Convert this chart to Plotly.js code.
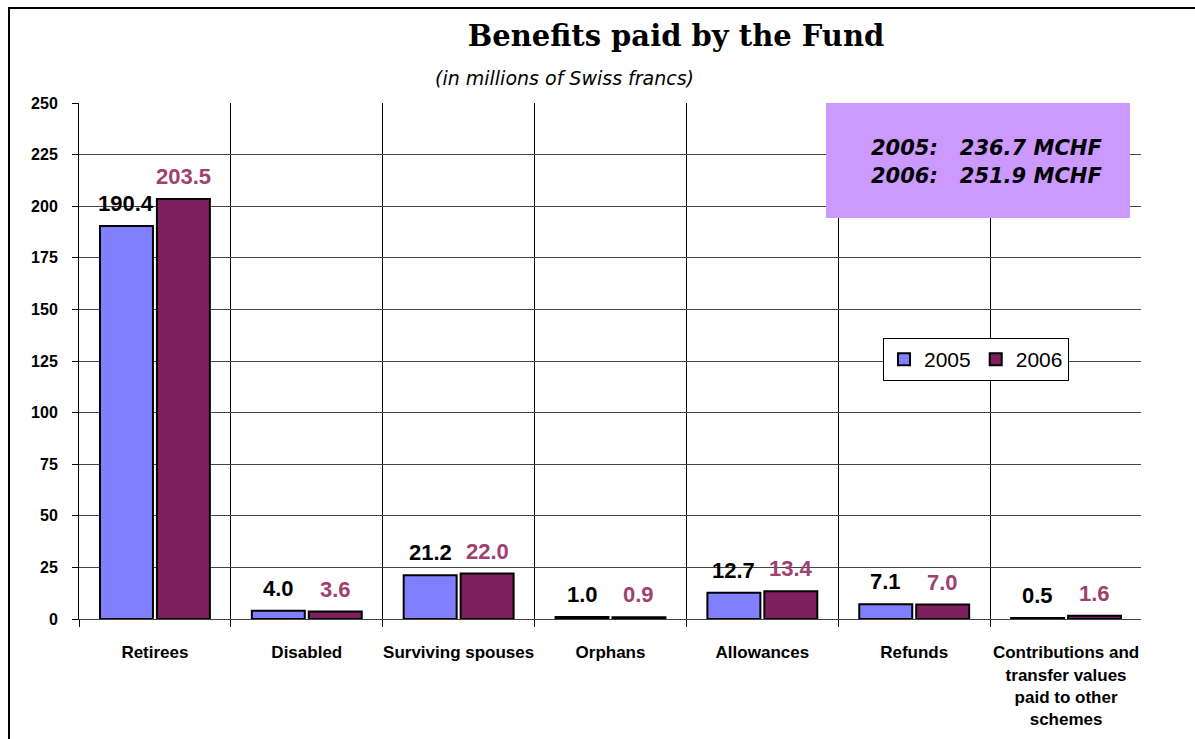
<!DOCTYPE html>
<html>
<head>
<meta charset="utf-8">
<script src="https://cdn.plot.ly/plotly-3.0.1.min.js"></script>
<style>html,body{margin:0;padding:0;background:#fff;}#chart{width:1195px;height:739px;}</style>
</head>
<body>
<div id="chart"></div>
<script>
// ---- data ----
const categories = ["Retirees", "Disabled", "Surviving spouses", "Orphans", "Allowances", "Refunds",
  "Contributions and<br>transfer values<br>paid to other<br>schemes"];
const values2005 = [190.4, 4.0, 21.2, 1.0, 12.7, 7.1, 0.5];
const values2006 = [203.5, 3.6, 22.0, 0.9, 13.4, 7.0, 1.6];
const seriesNames = ["2005", "2006"];
const totalsText = ["2005:\u00A0\u00A0\u00A0236.7 MCHF", "2006:\u00A0\u00A0\u00A0251.9 MCHF"];
const titleText = "Benefits paid by the Fund";
const subtitleText = "(in millions of Swiss francs)";
const yTickVals = [0, 25, 50, 75, 100, 125, 150, 175, 200, 225, 250];

// ---- layout geometry ----
const W = 1195, H = 739;
const M = {l: 79, r: 53, t: 103, b: 120};
const PW = W - M.l - M.r, PH = H - M.t - M.b;
const px2x = p => (p - M.l) / PW;
const py2y = p => (H - M.b - p) / PH;
const bargap = 0.25, bargroupgap = 0.07;
const barOffsetPx = PW / categories.length * (1 - bargap) / 4;

const col2005 = "#8080FF", col2006 = "#7F1F5F", lab2006 = "#A0406F";
const FONT = "Liberation Sans, Arial, sans-serif";
const WIDE = "DejaVu Sans, sans-serif";

const traces = [
  {type: "bar", name: seriesNames[0], x: categories, y: values2005,
   marker: {color: col2005, line: {color: "#000", width: 2}}, hoverinfo: "none"},
  {type: "bar", name: seriesNames[1], x: categories, y: values2006,
   marker: {color: col2006, line: {color: "#000", width: 2}}, hoverinfo: "none"}
];

const annotations = [];
categories.forEach((c, i) => {
  annotations.push({x: c, y: values2005[i], xref: "x", yref: "y", text: values2005[i].toFixed(1),
    showarrow: false, xshift: -barOffsetPx, yshift: 8, yanchor: "bottom",
    font: {family: FONT, size: 22, color: "#000", weight: "bold"}});
  annotations.push({x: c, y: values2006[i], xref: "x", yref: "y", text: values2006[i].toFixed(1),
    showarrow: false, xshift: barOffsetPx, yshift: 8, yanchor: "bottom",
    font: {family: FONT, size: 22, color: lab2006, weight: "bold"}});
});
annotations.push({xref: "paper", yref: "paper", x: px2x(564), y: py2y(78), text: "<i>" + subtitleText + "</i>",
  showarrow: false, xanchor: "center", yanchor: "middle", font: {family: WIDE, size: 19, color: "#000"}});
[148, 176].forEach((py, k) => {
  annotations.push({xref: "paper", yref: "paper", x: px2x(1104), y: py2y(py), text: "<b><i>" + totalsText[k] + "</i></b>",
    showarrow: false, xanchor: "right", yanchor: "middle", align: "left", font: {family: WIDE, size: 21, color: "#000"}});
});

const shapes = [
  {type: "rect", xref: "paper", yref: "paper", x0: px2x(826), x1: px2x(1130), y0: py2y(218), y1: py2y(103),
   fillcolor: "#CC99FF", line: {width: 0}, layer: "above"},
  // hide the closing boundary line on the right edge (not drawn in the original)
  {type: "line", xref: "paper", yref: "paper", x0: 1, x1: 1, y0: py2y(628), y1: py2y(104),
   line: {color: "#fff", width: 2}, layer: "above"},
  {type: "path", xref: "paper", yref: "paper",
   path: `M ${px2x(9)} ${py2y(H)} L ${px2x(9)} ${py2y(8)} L ${px2x(W)} ${py2y(8)}`,
   line: {color: "#000", width: 2}, layer: "above"}
];

const layout = {
  width: W, height: H, margin: M,
  paper_bgcolor: "#fff", plot_bgcolor: "#fff",
  font: {family: FONT, color: "#000"},
  title: {text: titleText, x: 676 / W, xref: "container", xanchor: "center", y: 1 - 36 / H, yref: "container", yanchor: "middle",
    font: {family: "DejaVu Serif, serif", size: 29, weight: "bold", color: "#000"}},
  barmode: "group", bargap: bargap, bargroupgap: bargroupgap,
  xaxis: {type: "category", tickson: "boundaries", showgrid: true, gridcolor: "#000", gridwidth: 1,
    ticks: "outside", ticklen: 7, tickcolor: "#000", showline: true, linecolor: "#444", linewidth: 1,
    tickangle: 0, automargin: false,
    ticklabelstandoff: 18, tickfont: {family: FONT, size: 17, weight: "bold", color: "#000"}, fixedrange: true},
  yaxis: {range: [0, 250], tickvals: yTickVals, showgrid: true, gridcolor: "#444", gridwidth: 1, zeroline: false,
    ticks: "outside", ticklen: 6, tickcolor: "#000", showline: true, linecolor: "#000", linewidth: 1,
    ticklabelstandoff: 11, tickfont: {family: FONT, size: 16, weight: "bold", color: "#000"}, fixedrange: true},
  showlegend: true,
  legend: {orientation: "h", x: px2x(883), y: py2y(338), xanchor: "left", yanchor: "top",
    bgcolor: "#fff", bordercolor: "#000", borderwidth: 1, font: {family: FONT, size: 21, color: "#000"},
    traceorder: "normal", itemwidth: 30},
  annotations: annotations,
  shapes: shapes
};

Plotly.newPlot("chart", traces, layout, {displayModeBar: false, staticPlot: true});
</script>
</body>
</html>
